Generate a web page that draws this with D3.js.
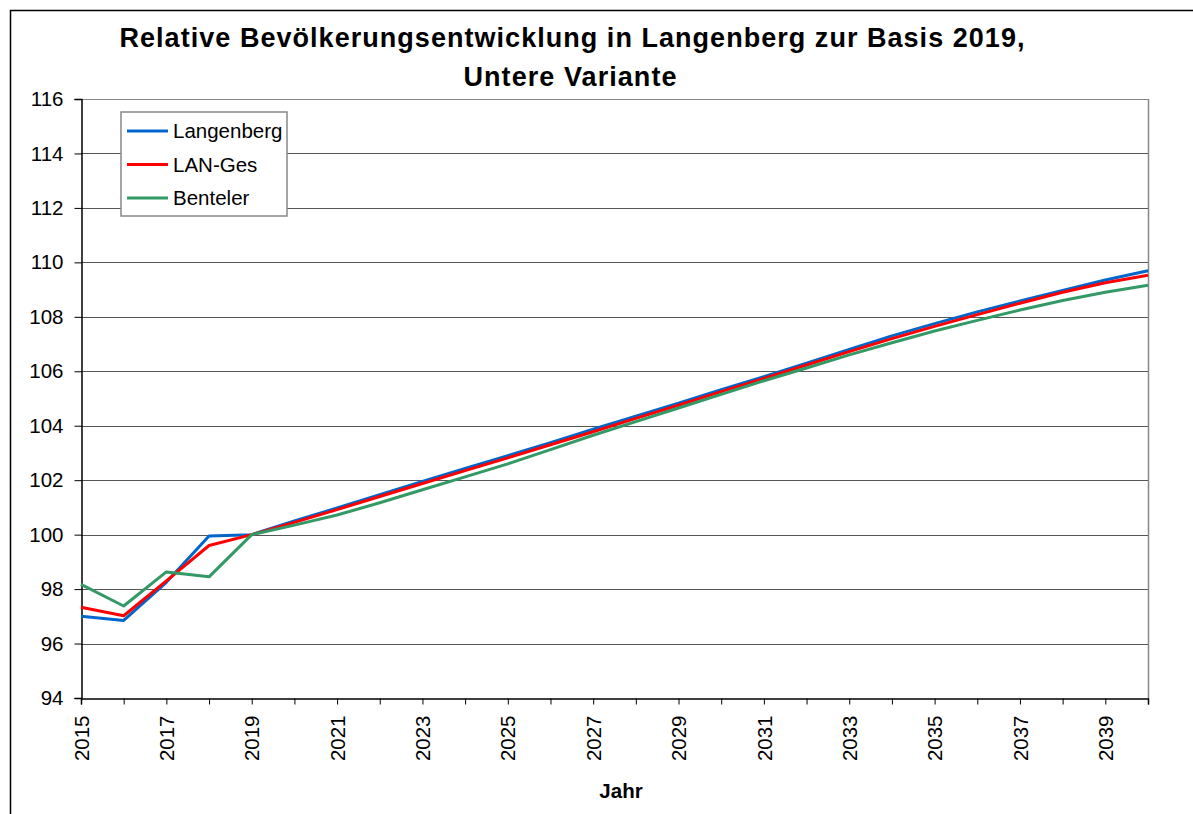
<!DOCTYPE html>
<html>
<head>
<meta charset="utf-8">
<script src="https://cdn.jsdelivr.net/npm/d3@7"></script>
<style>
  body { margin: 0; background: #fff; }
  svg { display: block; font-family: "Liberation Sans", Arial, sans-serif; }
</style>
</head>
<body>
<svg></svg>
<script>
let years = d3.range(2015, 2041);
let langenberg = [97.0, 96.85, 98.25, 99.95, 100.0, 100.5, 100.98, 101.47, 101.95, 102.43, 102.9, 103.38, 103.87, 104.35, 104.83, 105.32, 105.8, 106.3, 106.8, 107.3, 107.75, 108.18, 108.58, 108.97, 109.35, 109.69];
let lanGes = [97.33, 97.02, 98.3, 99.6, 100.0, 100.45, 100.92, 101.4, 101.88, 102.35, 102.82, 103.3, 103.78, 104.27, 104.75, 105.25, 105.74, 106.23, 106.72, 107.2, 107.65, 108.08, 108.5, 108.9, 109.25, 109.53];
let benteler = [98.17, 97.38, 98.63, 98.45, 100.0, 100.35, 100.72, 101.17, 101.65, 102.12, 102.6, 103.12, 103.65, 104.15, 104.65, 105.15, 105.65, 106.12, 106.6, 107.05, 107.48, 107.87, 108.25, 108.6, 108.9, 109.16];
let seriesNames = ['Langenberg', 'LAN-Ges', 'Benteler'];
let seriesColors = ['#0066cc', '#ff0000', '#339966'];
let yTicks = d3.range(94, 117, 2);
let xLabelYears = d3.range(2015, 2041, 2);

let w = 1193;
let h = 814;
let padL = 81, padR = 1148, padT = 99, padB = 698;

let svg = d3.select('svg').attr('width', w).attr('height', h);

// outer frame
svg.append('path')
   .attr('d', 'M10.5,' + h + ' L10.5,10.5 L' + w + ',10.5')
   .attr('fill', 'none')
   .attr('stroke', '#000')
   .attr('stroke-width', 1.5);

let xSc = d3.scaleLinear().domain([2015, 2040]).range([padL, padR]);
let ySc = d3.scaleLinear().domain([94, 116]).range([padB, padT]);

// grid
svg.append('g')
   .selectAll('line')
   .data(yTicks.slice(1))
   .enter()
   .append('line')
   .attr('x1', padL).attr('x2', padR)
   .attr('y1', d => Math.round(ySc(d)) + 0.5)
   .attr('y2', d => Math.round(ySc(d)) + 0.5)
   .attr('stroke', d => d === 116 ? '#888' : '#555')
   .attr('stroke-width', 1);

// right border of plot area
svg.append('line')
   .attr('x1', padR + 0.5).attr('x2', padR + 0.5)
   .attr('y1', padT).attr('y2', padB)
   .attr('stroke', '#888')
   .attr('stroke-width', 1.5);

// axes
let yAxis = d3.axisLeft(ySc).tickValues(yTicks).tickSize(7).tickPadding(11);
let gy = svg.append('g')
   .attr('transform', 'translate(' + (padL + 0.5) + ',0)')
   .call(yAxis);
gy.selectAll('text').style('font-size', '20.5px').attr('fill', '#000');
gy.selectAll('line').attr('stroke', '#000');
gy.select('.domain').attr('stroke', '#000').attr('stroke-width', 1.5);

let xAxis = d3.axisBottom(xSc).tickValues(years).tickSize(6)
              .tickFormat(d => xLabelYears.includes(d) ? d : '');
let gx = svg.append('g')
   .attr('transform', 'translate(0,' + (padB + 0.5) + ')')
   .call(xAxis);
gx.select('.domain').attr('stroke', '#000').attr('stroke-width', 1.5);
gx.selectAll('line').attr('stroke', '#000');
gx.selectAll('text')
  .style('font-size', '20.5px')
  .attr('fill', '#000')
  .attr('transform', 'rotate(-90)')
  .attr('text-anchor', 'end')
  .attr('x', -17)
  .attr('y', 0)
  .attr('dy', '0.35em');

// lines
let allSeries = [langenberg, lanGes, benteler];
let line = d3.line()
             .x((d, i) => xSc(years[i]))
             .y(d => ySc(d));
svg.append('g')
   .selectAll('path')
   .data(allSeries)
   .enter()
   .append('path')
   .attr('d', d => line(d))
   .attr('fill', 'none')
   .attr('stroke', (d, i) => seriesColors[i])
   .attr('stroke-width', 3)
   .attr('stroke-linejoin', 'round');

// legend
let lg = svg.append('g');
lg.append('rect')
  .attr('x', 121).attr('y', 112).attr('width', 166).attr('height', 104)
  .attr('fill', '#fff').attr('stroke', '#888').attr('stroke-width', 1.5);
seriesNames.forEach((name, i) => {
  let yy = 131 + i * 33.5;
  lg.append('line')
    .attr('x1', 127).attr('x2', 168)
    .attr('y1', yy).attr('y2', yy)
    .attr('stroke', seriesColors[i]).attr('stroke-width', 3);
  lg.append('text')
    .attr('x', 173).attr('y', yy)
    .attr('dy', '0.35em')
    .style('font-size', '20.5px')
    .text(name);
});

// title
svg.append('text')
   .attr('x', 572).attr('y', 47)
   .attr('text-anchor', 'middle')
   .attr('textLength', 905)
   .attr('lengthAdjust', 'spacing')
   .style('font-size', '27px').style('font-weight', 'bold')
   .text('Relative Bevölkerungsentwicklung in Langenberg zur Basis 2019,');
svg.append('text')
   .attr('x', 570).attr('y', 86)
   .attr('text-anchor', 'middle')
   .attr('textLength', 213)
   .attr('lengthAdjust', 'spacing')
   .style('font-size', '27px').style('font-weight', 'bold')
   .text('Untere Variante');

svg.append('text')
   .attr('x', 621).attr('y', 798)
   .attr('text-anchor', 'middle')
   .style('font-size', '20.5px').style('font-weight', 'bold')
   .text('Jahr');
</script>
</body>
</html>
